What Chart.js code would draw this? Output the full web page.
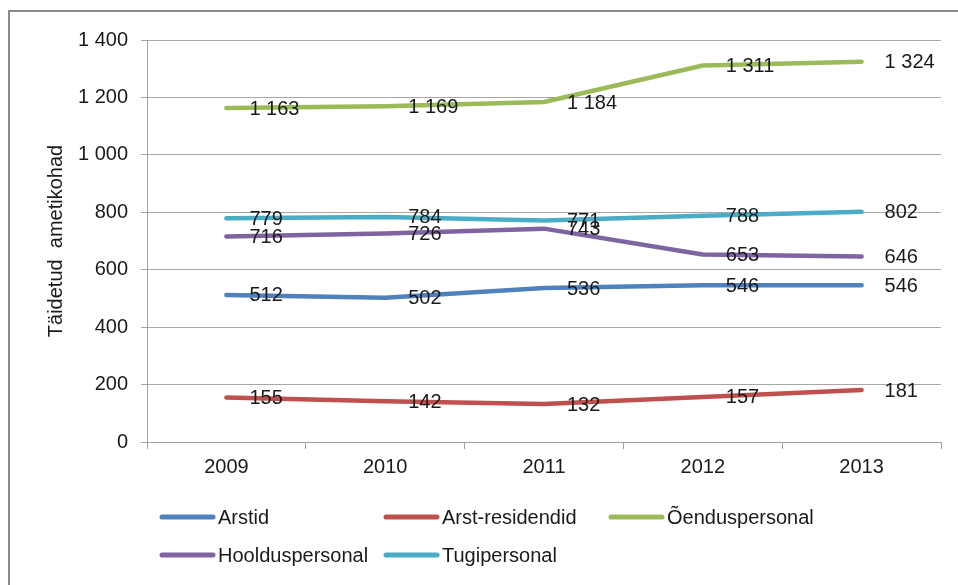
<!DOCTYPE html>
<html lang="et">
<head>
<meta charset="utf-8">
<title>Täidetud ametikohad 2009–2013</title>
<script src="https://cdn.jsdelivr.net/npm/chart.js@4"></script>
<style>
  html, body { margin: 0; padding: 0; background: #fff; overflow: hidden; }
  #wrap { position: relative; width: 958px; height: 585px; }
  #frame {
    position: absolute; left: 8px; top: 10px; width: 970px; height: 600px;
    border: 2px solid #8a8a8a; box-sizing: border-box; pointer-events: none;
  }
  canvas { position: absolute; left: 0; top: 0; }
</style>
</head>
<body>
<div id="wrap">
  <canvas id="staff-chart" width="958" height="585"></canvas>
  <div id="frame"></div>
</div>
<script>
const years = ['2009', '2010', '2011', '2012', '2013'];
const arstid = [512, 502, 536, 546, 546];
const arstResidendid = [155, 142, 132, 157, 181];
const oenduspersonal = [1163, 1169, 1184, 1311, 1324];
const hoolduspersonal = [716, 726, 743, 653, 646];
const tugipersonal = [779, 784, 771, 788, 802];
const yTicks = [0, 200, 400, 600, 800, 1000, 1200, 1400];

const FONT = '"Liberation Sans", Arial, sans-serif';

// 1163 -> "1 163"
function formatNumber(n) {
  return String(n).replace(/\B(?=(\d{3})+(?!\d))/g, ' ');
}

// value labels to the right of each point
const pointLabels = {
  id: 'pointLabels',
  afterDatasetsDraw(chart) {
    const ctx = chart.ctx;
    ctx.save();
    ctx.font = '20px ' + FONT;
    ctx.fillStyle = '#1a1a1a';
    ctx.textAlign = 'left';
    ctx.textBaseline = 'middle';
    chart.data.datasets.forEach((ds, i) => {
      chart.getDatasetMeta(i).data.forEach((pt, j) => {
        ctx.fillText(formatNumber(ds.data[j]), pt.x + 23, pt.y + 1);
      });
    });
    ctx.restore();
  }
};

// legend laid out in fixed columns under the axis
const gridLegend = {
  id: 'gridLegend',
  afterDraw(chart) {
    const ctx = chart.ctx;
    const cols = [160, 384, 609];
    const rows = [517, 555];
    ctx.save();
    ctx.font = '20px ' + FONT;
    ctx.textAlign = 'left';
    ctx.textBaseline = 'middle';
    ctx.lineCap = 'round';
    chart.data.datasets.forEach((ds, i) => {
      const x = cols[i % 3];
      const y = rows[Math.floor(i / 3)];
      ctx.strokeStyle = ds.borderColor;
      ctx.lineWidth = 5;
      ctx.beginPath();
      ctx.moveTo(x + 2, y);
      ctx.lineTo(x + 53, y);
      ctx.stroke();
      ctx.fillStyle = '#1a1a1a';
      ctx.fillText(ds.label, x + 58, y + 1);
    });
    ctx.restore();
  }
};

function series(label, data, color) {
  return {
    label: label,
    data: data,
    borderColor: color,
    backgroundColor: color,
    borderWidth: 4.5,
    borderCapStyle: 'round',
    borderJoinStyle: 'round',
    pointRadius: 0,
    pointHoverRadius: 0,
    tension: 0,
    fill: false
  };
}

new Chart(document.getElementById('staff-chart'), {
  type: 'line',
  data: {
    labels: years,
    datasets: [
      series('Arstid', arstid, '#4F81BD'),
      series('Arst-residendid', arstResidendid, '#C0504D'),
      series('Õenduspersonal', oenduspersonal, '#9BBB59'),
      series('Hoolduspersonal', hoolduspersonal, '#8064A2'),
      series('Tugipersonal', tugipersonal, '#4BACC6')
    ]
  },
  options: {
    responsive: false,
    animation: false,
    events: [],
    layout: { padding: { left: 44, top: 40, right: 17, bottom: 103 } },
    scales: {
      x: {
        offset: true,
        border: { color: '#a0a0a0', width: 1 },
        grid: {
          offset: true,
          drawOnChartArea: false,
          drawTicks: true,
          tickLength: 7,
          color: '#a0a0a0'
        },
        ticks: {
          color: '#1a1a1a',
          padding: 6,
          maxRotation: 0,
          font: { family: FONT, size: 20 }
        },
        afterFit(scale) { scale.height = 40; }
      },
      y: {
        min: 0,
        max: 1400,
        afterBuildTicks(scale) {
          scale.ticks = yTicks.map(v => ({ value: v }));
        },
        border: { color: '#a0a0a0', width: 1 },
        grid: {
          color: '#a6a6a6',
          lineWidth: 1,
          drawTicks: true,
          tickLength: 6
        },
        ticks: {
          color: '#1a1a1a',
          padding: 13,
          font: { family: FONT, size: 20 },
          callback: value => formatNumber(value)
        },
        title: {
          display: true,
          text: 'Täidetud  ametikohad',
          color: '#1a1a1a',
          padding: 0,
          font: { family: FONT, size: 20 }
        },
        afterFit(scale) { scale.width = 103; }
      }
    },
    plugins: {
      legend: { display: false },
      tooltip: { enabled: false },
      title: { display: false }
    }
  },
  plugins: [pointLabels, gridLegend]
});
</script>
</body>
</html>
